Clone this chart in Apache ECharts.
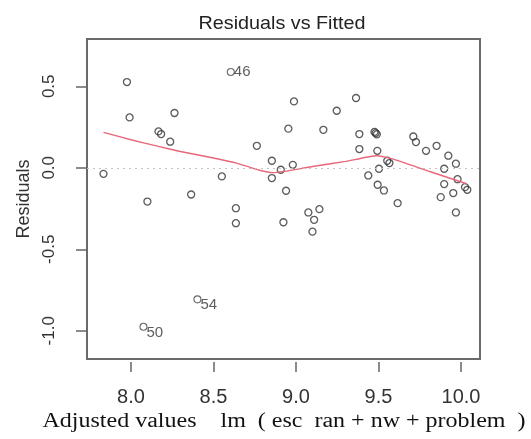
<!DOCTYPE html>
<html>
<head>
<meta charset="utf-8">
<script src="https://cdn.jsdelivr.net/npm/echarts@6/dist/echarts.min.js"></script>
<style>
html,body{margin:0;padding:0;background:#fff;}
#chart{width:531px;height:439px;}
</style>
</head>
<body>
<div id="chart"></div>
<script>
// Fitted values and residuals
var fitted = [7.834,7.976,7.992,8.100,8.167,8.183,8.238,8.264,8.365,8.551,8.636,8.636,8.763,8.854,8.854,8.908,8.940,8.954,8.981,8.988,8.924,
  9.075,9.110,9.142,9.100,9.166,9.247,9.364,9.384,9.384,9.438,9.476,9.483,9.490,9.493,9.503,9.495,9.533,9.553,9.566,9.616,
  9.711,9.727,9.788,9.852,9.877,9.898,9.898,9.923,9.953,9.969,9.979,9.969,10.024,10.038];
var residuals = [-0.037,0.526,0.309,-0.207,0.223,0.207,0.160,0.336,-0.164,-0.053,-0.248,-0.340,0.135,0.043,-0.063,-0.012,-0.141,0.240,0.018,0.407,-0.334,
  -0.274,-0.319,-0.254,-0.392,0.233,0.350,0.428,0.207,0.115,-0.047,0.220,0.213,0.205,0.104,-0.006,-0.104,-0.139,0.043,0.029,-0.217,
  0.192,0.158,0.104,0.135,-0.180,-0.006,-0.100,0.074,-0.155,0.025,-0.070,-0.274,-0.119,-0.135];
// Labelled observations
var outlierFitted = [8.605, 8.403, 8.076];
var outlierResid = [0.588, -0.807, -0.975];
var outlierIds = ['46', '54', '50'];
// Smoother (red line)
var smoothX = [7.834,8.0,8.167,8.3,8.5,8.64,8.78,8.86,8.93,9.03,9.1,9.3,9.49,9.59,9.81,10.034];
var smoothY = [0.217,0.172,0.131,0.100,0.060,0.029,-0.015,-0.030,-0.022,-0.005,0.008,0.039,0.074,0.053,-0.023,-0.098];
// Ticks
var xTicks = [8.0, 8.5, 9.0, 9.5, 10.0];
var yTicks = [-1.0, -0.5, 0.0, 0.5];
// Texts
var titleText = 'Residuals vs Fitted';
var xTitle = 'Adjusted values    lm  ( esc  ran + nw + problem  )';
var yTitle = 'Residuals';

var pts = fitted.map(function(v,i){return [v, residuals[i]];});
var outPts = outlierFitted.map(function(v,i){
  return {value:[v, outlierResid[i]], name: outlierIds[i],
    label:{offset:[-2, outlierResid[i] < 0 ? 6 : 0]}};
});
var smooth = smoothX.map(function(v,i){return [v, smoothY[i]];});

var chart = echarts.init(document.getElementById('chart'), null, {renderer:'canvas'});
var txt = '#333';
var sans = '"Liberation Sans", Arial, sans-serif';
chart.setOption({
  animation:false,
  backgroundColor:'#fff',
  grid:{left:87, right:51, top:39, bottom:80, show:true, borderColor:'#6a6a6a', borderWidth:2, containLabel:false},
  graphic:[
    {type:'text', x:282, y:24, scaleX:1.04, style:{text:titleText, x:0, y:0, textAlign:'center', textVerticalAlign:'middle',
      font:'19px ' + sans, fill:'#222'}},
    {type:'text', x:284, y:422, scaleX:1.2, style:{text:xTitle, x:0, y:0, textAlign:'center', textVerticalAlign:'middle',
      font:'20px "Liberation Serif", "Times New Roman", serif', fill:'#111'}}
  ],
  xAxis:{type:'value', min:7.734, max:10.115, offset:3,
    axisLine:{show:false, onZero:false},
    axisTick:{show:true, length:10, customValues:xTicks, lineStyle:{color:'#666', width:1.5}},
    axisLabel:{show:true, customValues:xTicks, margin:25, color:txt, fontSize:20, fontFamily:sans,
      formatter:function(v){return v.toFixed(1);}},
    splitLine:{show:false}
  },
  yAxis:{type:'value', min:-1.173, max:0.79,
    axisLine:{show:false, onZero:false},
    axisTick:{show:true, length:11, customValues:yTicks, lineStyle:{color:'#666', width:1.5}},
    axisLabel:{show:true, customValues:yTicks, rotate:90, margin:29, color:txt, fontSize:17, fontFamily:sans,
      formatter:function(v){return v.toFixed(1);}},
    splitLine:{show:false},
    name:yTitle, nameLocation:'middle', nameGap:53,
    nameTextStyle:{color:txt, fontSize:18, fontFamily:sans}
  },
  series:[
    {type:'scatter', data:pts, symbol:'circle', symbolSize:7,
      itemStyle:{color:'rgba(0,0,0,0)', borderColor:'#333', borderWidth:1.3},
      markLine:{silent:true, symbol:['none','none'], label:{show:false},
        lineStyle:{color:'#c4c4c4', type:[2,4], width:1.2}, data:[{yAxis:0}]},
      z:2},
    {type:'scatter', data:outPts, symbol:'circle', symbolSize:7,
      itemStyle:{color:'rgba(0,0,0,0)', borderColor:'#444', borderWidth:1.1},
      label:{show:true, position:'right', distance:1, formatter:function(p){return p.name;}, color:'#333', fontSize:15,
        fontFamily:sans},
      z:2},
    {type:'line', data:smooth, showSymbol:false, symbol:'none', smooth:0.15,
      lineStyle:{color:'#E8677A', width:1.4}, z:3}
  ]
});
</script>
</body>
</html>
